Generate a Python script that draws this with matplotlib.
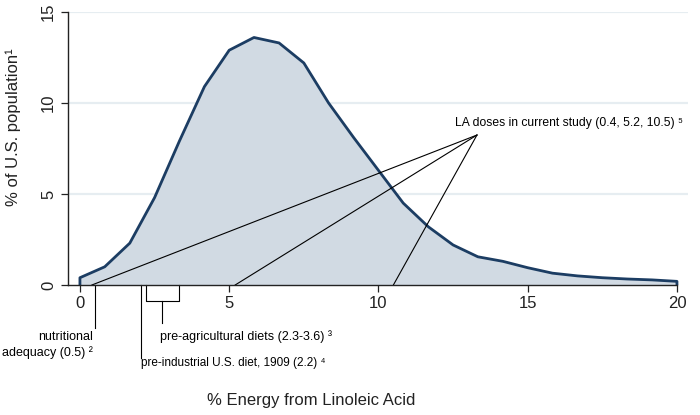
import matplotlib
matplotlib.use("Agg")
import matplotlib.pyplot as plt
import numpy as np

plt.rcParams['font.family'] = ['Liberation Sans', 'DejaVu Sans']

# Data: distribution of % energy from linoleic acid in U.S. population
energy = [0.0, 0.83, 1.67, 2.5, 3.33, 4.17, 5.0, 5.83, 6.67, 7.5, 8.33, 9.17,
          10.0, 10.83, 11.67, 12.5, 13.33, 14.17, 15.0, 15.83, 16.67, 17.5,
          18.33, 19.17, 20.0]
pct_pop = [0.4, 1.0, 2.3, 4.8, 7.9, 10.9, 12.9, 13.6, 13.3, 12.2, 10.0, 8.1,
           6.3, 4.5, 3.2, 2.2, 1.55, 1.3, 0.95, 0.65, 0.5, 0.4,
           0.33, 0.28, 0.2]

la_doses = [0.4, 5.2, 10.5]
la_apex = (13.3, 8.24)
nutritional_adequacy = 0.5
pre_industrial = 2.05
pre_agricultural = (2.2, 3.32)

xticks = [0, 5, 10, 15, 20]
yticks = [0, 5, 10, 15]

W, H = 700, 415
fig = plt.figure(figsize=(W / 100, H / 100), dpi=100)
ax = fig.add_axes([68 / W, 1 - 285 / H, 620 / W, 273 / H])

ax.set_xlim(-0.4, 20.37)
ax.set_ylim(0, 15)

grid_c = '#e6edf1'
for yv in yticks[1:]:
    ax.axhline(yv, color=grid_c, lw=1.6, zorder=0)

xs = np.array(energy)
ys = np.array(pct_pop)
ax.fill_between(xs, 0, ys, color='#d1dae3', zorder=1, lw=0)
ax.plot(np.r_[xs[0], xs, xs[-1]], np.r_[0, ys, 0], color='#1c3d63', lw=2.0,
        zorder=3, solid_joinstyle='round')

# LA dose pointer lines
for d in la_doses:
    ax.plot([la_apex[0], d], [la_apex[1], 0], color='black', lw=0.8, zorder=4)
ax.text(12.56, 8.9,
        'LA doses in current study (0.4, 5.2, 10.5) \u2075',
        ha='left', va='center', fontsize=8.7, zorder=5)

# Below-axis annotations
kw = dict(color='black', lw=0.8, clip_on=False, zorder=4)
ax.plot([nutritional_adequacy, nutritional_adequacy], [0, -2.36], **kw)
ax.text(nutritional_adequacy - 0.05, -3.3, 'nutritional\nadequacy (0.5) \u00b2',
        ha='right', va='center', fontsize=9, linespacing=1.35)

ax.plot([pre_industrial, pre_industrial], [0, -4.0], **kw)
ax.text(pre_industrial - 0.02, -4.3, 'pre-industrial U.S. diet, 1909 (2.2) \u2074',
        ha='left', va='center', fontsize=8.5)

a, b = pre_agricultural
ax.plot([a, a, b, b], [0, -0.88, -0.88, 0], **kw)
mid = (a + b) / 2
ax.plot([mid, mid], [-0.88, -2.09], **kw)
ax.text(2.68, -2.86, 'pre-agricultural diets (2.3-3.6) \u00b3',
        ha='left', va='center', fontsize=9)

# Axes styling
for s in ['top', 'right']:
    ax.spines[s].set_visible(False)
ax.spines['left'].set_color('#222222')
ax.spines['bottom'].set_color('#222222')
ax.spines['left'].set_linewidth(1.0)
ax.spines['bottom'].set_linewidth(1.0)
ax.spines['bottom'].set_bounds(-0.4, 20)
ax.spines['bottom'].set_zorder(6)

ax.set_xticks(xticks)
ax.set_yticks(yticks)
ax.tick_params(axis='both', length=5, width=0.9, color='#222222',
               labelsize=12, labelcolor='#222222')
ax.tick_params(axis='x', pad=3)
for lab in ax.get_yticklabels():
    lab.set_rotation(90)
    lab.set_va('center')

fig.text(13 / W, 1 - 127 / H, '% of U.S. population\u00b9', rotation=90,
         ha='center', va='center', fontsize=12, color='#222222')
fig.text(311 / W, 1 - 400 / H, '% Energy from Linoleic Acid',
         ha='center', va='center', fontsize=12, color='#222222')

fig.savefig('out.png', dpi=100)
